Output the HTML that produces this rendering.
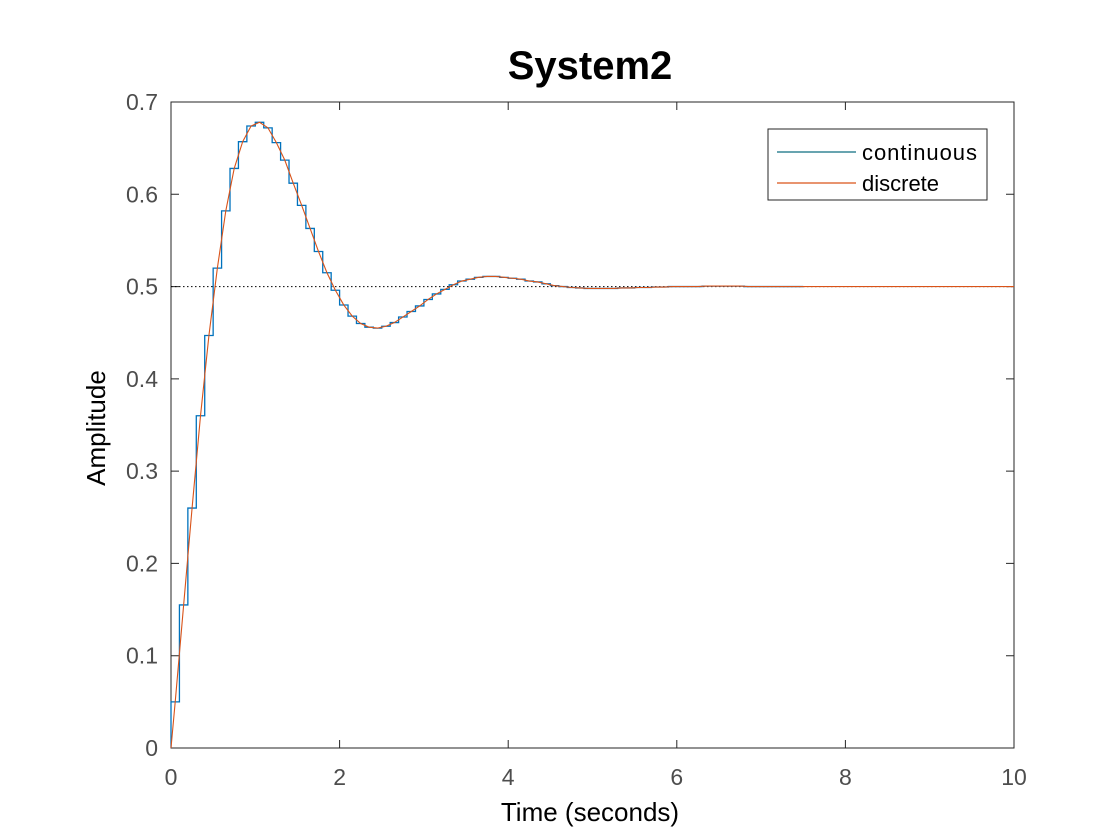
<!DOCTYPE html>
<html><head><meta charset="utf-8"><style>
body{margin:0;background:#fff;}
svg{display:block;font-family:"Liberation Sans",Arial,sans-serif;}
</style></head><body>
<svg id="chart" width="1120" height="840">
<rect width="1120" height="840" fill="#fff"/>
<text x="590" y="79" text-anchor="middle" font-size="40" font-weight="bold" fill="#000">System2</text>
<rect x="171" y="102" width="843" height="646" fill="#fff" stroke="#262626" stroke-width="1"/>
<g id="ticks"></g>
<line id="ref" stroke="#000" stroke-dasharray="1.5,2.5" stroke-width="1"/>
<path id="disc" fill="none" stroke="#0072BD" stroke-width="1.3"/>
<path id="cont" fill="none" stroke="#D95319" stroke-width="1.1"/>
<text x="590" y="821" text-anchor="middle" font-size="26" fill="#000">Time (seconds)</text>
<text transform="translate(105,428) rotate(-90)" text-anchor="middle" font-size="26" fill="#000">Amplitude</text>
<g>
<rect x="768" y="129" width="219" height="71" fill="#fff" stroke="#262626" stroke-width="1"/>
<line x1="777" y1="152" x2="856" y2="152" stroke="#0E6E80" stroke-width="1.3"/>
<text x="862" y="160" font-size="22" textLength="115" fill="#000">continuous</text>
<line x1="777" y1="183" x2="856" y2="183" stroke="#D95319" stroke-width="1.3"/>
<text x="862" y="191" font-size="22" fill="#000">discrete</text>
</g>
</svg>
<script>
const xTicks=[0,2,4,6,8,10];
const yTicks=[0,0.1,0.2,0.3,0.4,0.5,0.6,0.7];
const sampleTime=0.1;
const amplitude=[0,0.05,0.155,0.26,0.36,0.447,0.52,0.582,0.628,0.657,0.674,0.678,0.672,0.656,0.637,0.612,0.588,0.563,0.538,0.515,0.496,0.48,0.468,0.46,0.456,0.455,0.457,0.461,0.467,0.473,0.479,0.486,0.492,0.497,0.502,0.506,0.508,0.51,0.511,0.511,0.51,0.509,0.508,0.506,0.505,0.503,0.501,0.5,0.499,0.4985,0.498,0.498,0.498,0.498,0.4985,0.4985,0.499,0.499,0.4995,0.4995,0.5,0.5,0.5,0.5,0.5005,0.5005,0.5005,0.5005,0.5005,0.5,0.5,0.5,0.5,0.5,0.5,0.5];
const finalValue=0.5;
const tEnd=10;
const X=t=>171+t/10*843;
const Y=v=>748-v/0.7*646;
const ns='http://www.w3.org/2000/svg';
const tg=document.getElementById('ticks');
xTicks.forEach(t=>{
 const x=X(t);
 const l=document.createElementNS(ns,'path');
 l.setAttribute('d',`M${x},748V740M${x},102V110`);l.setAttribute('stroke','#262626');
 
 
 tg.appendChild(l);
 const tx=document.createElementNS(ns,'text');
 tx.setAttribute('x',x);tx.setAttribute('y',785);tx.setAttribute('text-anchor','middle');tx.setAttribute('font-size','23');tx.setAttribute('fill','#4d4d4d');
 tx.textContent=t;
 
 
 tg.appendChild(tx);
});
yTicks.forEach(v=>{
 const y=Y(v);
 const l=document.createElementNS(ns,'path');
 l.setAttribute('d',`M171,${y}H179M1014,${y}H1006`);l.setAttribute('stroke','#262626');
 
 
 tg.appendChild(l);
 const tx=document.createElementNS(ns,'text');
 tx.setAttribute('x',158);tx.setAttribute('y',y+8);tx.setAttribute('text-anchor','end');tx.setAttribute('font-size','23');tx.setAttribute('fill','#4d4d4d');
 tx.textContent=v===0?'0':v.toFixed(1);
 
 
 tg.appendChild(tx);
});
const r=document.getElementById('ref');
r.setAttribute('x1',X(0));r.setAttribute('x2',X(tEnd));r.setAttribute('y1',Y(finalValue));r.setAttribute('y2',Y(finalValue));
let d='M'+X(0)+','+Y(0),c='M'+X(0)+','+Y(0);
amplitude.forEach((v,i)=>{
 if(i===0)return;
 const t0=(i-1)*sampleTime,t1=i*sampleTime;
 d+='L'+X(t0)+','+Y(v)+'L'+X(t1)+','+Y(v);
 c+='L'+X((i-0.5)*sampleTime)+','+Y(v);
});
c+='L'+X(tEnd)+','+Y(finalValue);
document.getElementById('disc').setAttribute('d',d);
document.getElementById('cont').setAttribute('d',c);
</script>
</body></html>
